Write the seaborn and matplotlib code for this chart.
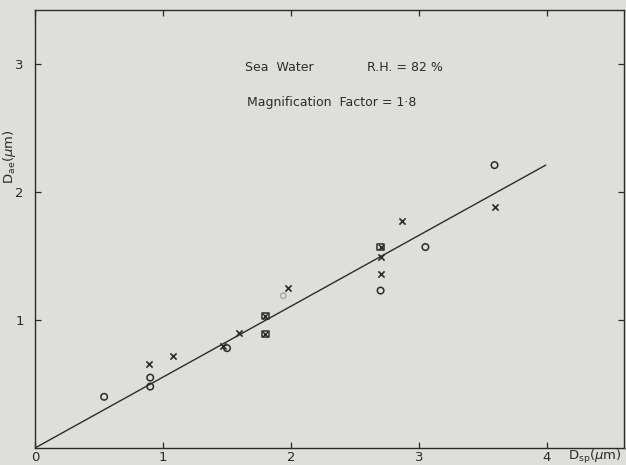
import matplotlib
matplotlib.use("Agg")
import matplotlib.pyplot as plt
import seaborn as sns
import pandas as pd

# Data (D_sp, D_ae in micrometres)
circle_x = [0.54, 0.90, 0.90, 1.50, 2.70, 3.05, 3.59]
circle_y = [0.40, 0.55, 0.48, 0.78, 1.23, 1.57, 2.21]

cross_x = [0.89, 1.08, 1.47, 1.59, 1.98, 2.70, 2.70, 2.87, 3.59]
cross_y = [0.66, 0.72, 0.80, 0.90, 1.25, 1.49, 1.36, 1.77, 1.88]

box_x = [1.80, 1.80, 2.70]
box_y = [1.03, 0.89, 1.57]

faint_x = [1.94]
faint_y = [1.19]

fit_x = [0.0, 3.99]
fit_y = [0.0, 2.21]

xticks = [0, 1, 2, 3, 4]
xticklabels = ["0", "1", "2", "3", "4"]
yticks = [1, 2, 3]
yticklabels = ["1", "2", "3"]

bg = "#dededb"
ink = "#2b2b2b"

sns.set_style("ticks")
plt.rcParams["font.family"] = ["DejaVu Sans"]

fig = plt.figure(figsize=(6.26, 4.65), dpi=100, facecolor=bg)
ax = fig.add_axes([35 / 626, 17 / 465, (624 - 35) / 626, (448 - 10) / 465])
ax.set_facecolor(bg)

sns.lineplot(x=fit_x, y=fit_y, ax=ax, color=ink, linewidth=1.0)

sns.scatterplot(x=circle_x, y=circle_y, ax=ax, marker="o", s=22,
                facecolor="none", edgecolor=ink, linewidth=1.1)
sns.scatterplot(x=cross_x, y=cross_y, ax=ax, marker="x", s=20,
                color=ink, linewidth=1.2)
sns.scatterplot(x=box_x, y=box_y, ax=ax, marker="s", s=20,
                facecolor="none", edgecolor=ink, linewidth=1.1)
sns.scatterplot(x=box_x, y=box_y, ax=ax, marker="x", s=14,
                color=ink, linewidth=1.0)
sns.scatterplot(x=faint_x, y=faint_y, ax=ax, marker="o", s=16,
                facecolor="none", edgecolor="#9a9a9a", linewidth=0.8)

ax.set_xlim(0, (624 - 35) / 128)
ax.set_ylim(0, (448 - 10) / 128)
ax.set_xticks(xticks)
ax.set_xticklabels(xticklabels)
ax.set_yticks(yticks)
ax.set_yticklabels(yticklabels)
ax.tick_params(direction="in", length=4, width=0.9, colors=ink,
               labelsize=9.5, top=True, right=True)
ax.tick_params(axis="x", pad=2)
ax.tick_params(axis="y", pad=8)
for sp in ax.spines.values():
    sp.set_visible(True)
    sp.set_color(ink)
    sp.set_linewidth(1.0)

ax.set_xlabel("")
ax.set_ylabel("")
fig.text(10 / 626, 1 - 157 / 465, r"D$_{\rm ae}$($\mu$m)", rotation=90,
         ha="center", va="center", fontsize=9.5, color=ink)
fig.text(622 / 626, 1 - 457 / 465, r"D$_{\rm sp}$($\mu$m)", ha="right",
         va="center", fontsize=9.5, color=ink)

ax.text(1.64, 2.97, "Sea  Water", fontsize=9, color=ink, va="center")
ax.text(2.59, 2.97, "R.H. = 82 %", fontsize=9, color=ink, va="center")
ax.text(1.66, 2.70, "Magnification  Factor = 1·8", fontsize=9,
        color=ink, va="center")

fig.savefig("out.png", dpi=100, facecolor=bg)
